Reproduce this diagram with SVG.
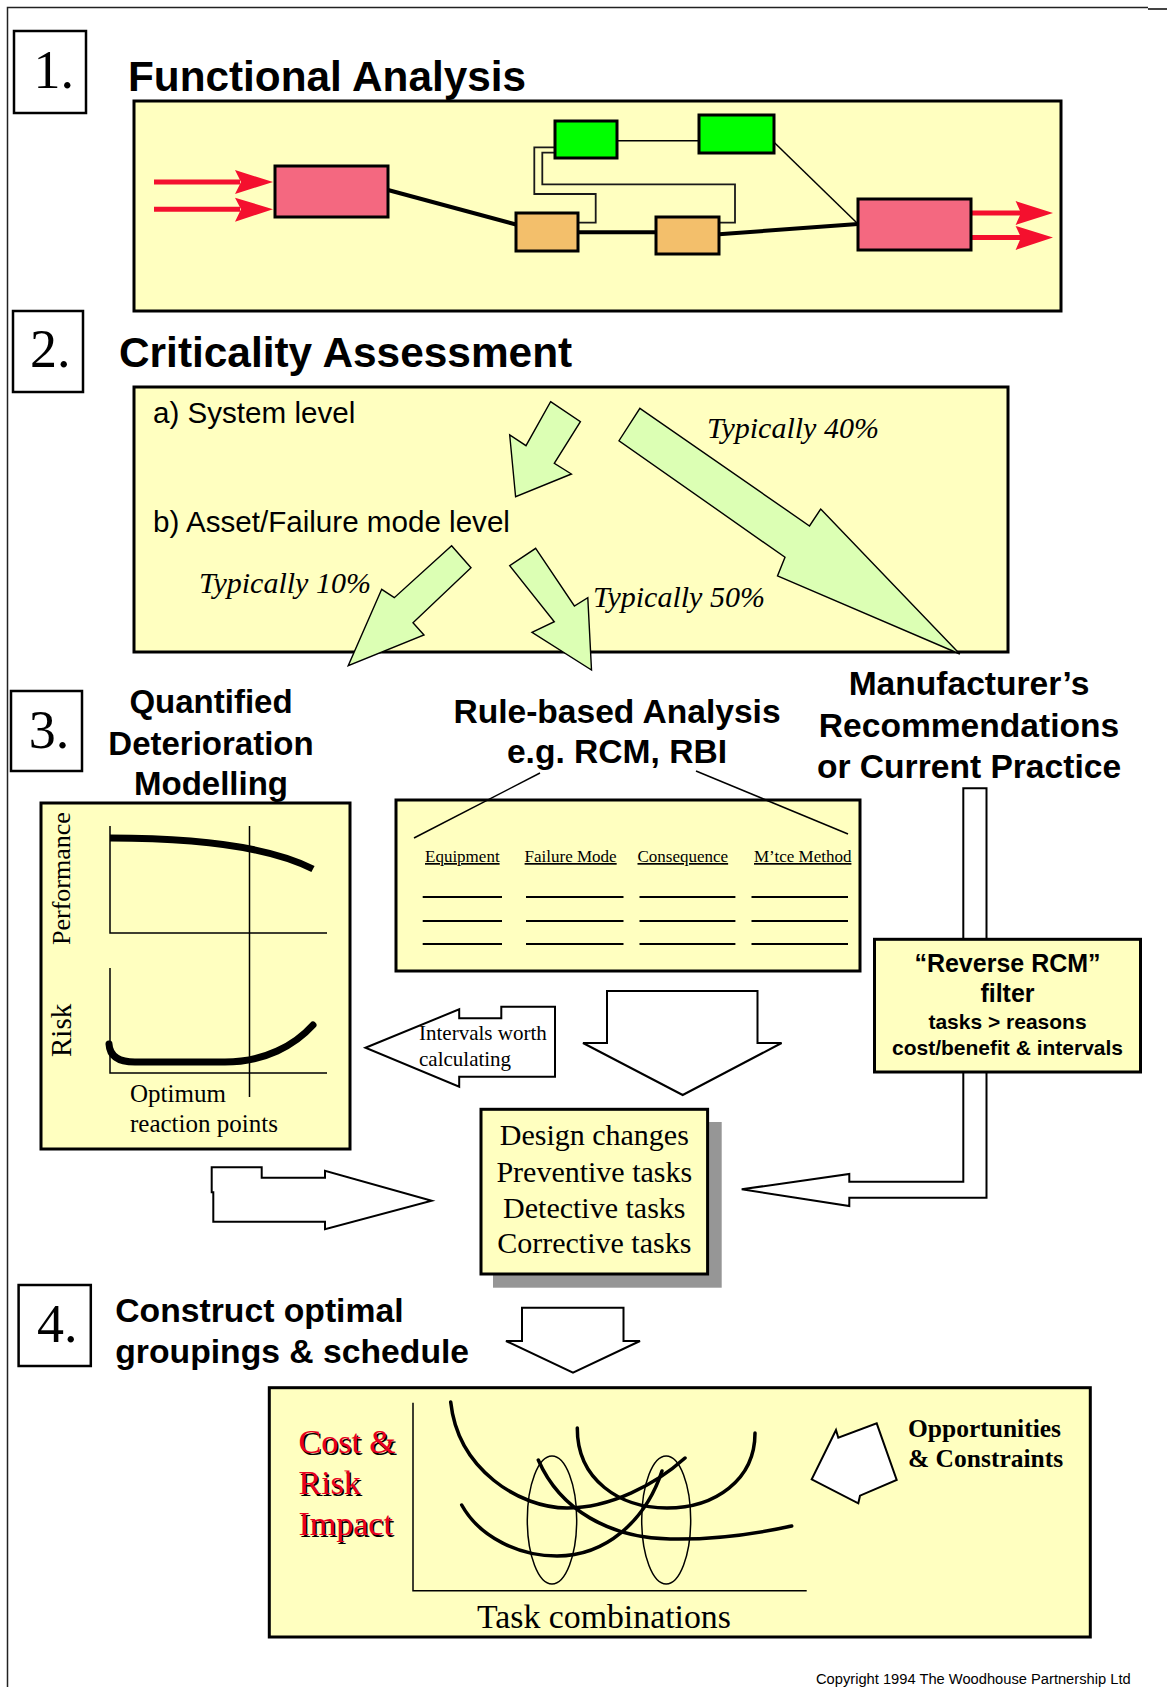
<svg xmlns="http://www.w3.org/2000/svg" width="1167" height="1687" viewBox="0 0 1167 1687">
<defs>
<style>
.box{fill:#FFFFC0;stroke:#000;stroke-width:3}
.num{fill:#fff;stroke:#000;stroke-width:2.5}
.numt{font-family:"Liberation Serif","Times New Roman",serif;font-size:54px;fill:#000}
.h{font-family:"Liberation Sans",Arial,sans-serif;font-weight:bold;fill:#000}
.sans{font-family:"Liberation Sans",Arial,sans-serif;fill:#000}
.serif{font-family:"Liberation Serif","Times New Roman",serif;fill:#000}
.it{font-style:italic}
.blk{stroke:#000;stroke-width:3}
.pink{fill:#F46880}
.orange{fill:#F3BF6B}
.green{fill:#00FF00}
.redl{stroke:#F4102E;stroke-width:5;fill:none}
.redh{fill:#F4102E}
.conn{fill:none;stroke:#000;stroke-width:4}
.fine{fill:none;stroke:#000;stroke-width:1.5}
.dbl{fill:none;stroke:#1a1a1a;stroke-width:1.8}
.garrow{fill:#DCFFB4;stroke:#000;stroke-width:1.4;stroke-linejoin:miter}
.warrow{fill:#fff;stroke:#000;stroke-width:2;stroke-linejoin:miter}
.curve{fill:none;stroke:#000;stroke-width:3.5;stroke-linecap:round}
.thick{fill:none;stroke:#000;stroke-width:7}
.rowl{stroke:#000;stroke-width:2}
.hdr{font-family:"Liberation Serif","Times New Roman",serif;font-size:17px;text-decoration:underline;fill:#000}
</style>
</defs>

<g id="frame">
<path d="M7.5,1687 V7.5 H1148" fill="none" stroke="#222" stroke-width="1.5"/>
<path d="M1148,9 H1167" stroke="#444" stroke-width="2"/>
</g>

<!-- Section 1 -->
<g id="step1-label">
<rect class="num" x="14" y="31" width="72" height="82"/>
<text class="numt" x="33.5" y="88">1.</text>
<text class="h" x="128" y="91" font-size="42.3">Functional Analysis</text>
</g>
<g id="functional-panel">
<rect class="box" x="134" y="101" width="927" height="210"/>
</g>
<g id="fa-connectors">
<line class="conn" x1="388" y1="190" x2="516" y2="224.5"/>
<line class="conn" x1="578" y1="232.3" x2="656" y2="232.3"/>
<line class="conn" x1="719" y1="234.3" x2="858" y2="224"/>
<line class="fine" x1="617" y1="140.7" x2="699" y2="140.7"/>
<line class="fine" x1="774" y1="142.3" x2="858" y2="224"/>
<path class="dbl" d="M555,147.3 H534.3 V194 H595.7 V222.7 H578"/>
<path class="dbl" d="M555,152.7 H542.3 V184.3 H735 V222.7 H719"/>
<line class="redl" x1="154" y1="182" x2="240" y2="182"/>
<polygon class="redh" points="235,170 273,182 235,194 241,182"/>
<line class="redl" x1="154" y1="209.3" x2="240" y2="209.3"/>
<polygon class="redh" points="235,197.7 273,209.3 235,221.7 241,209.3"/>
<line class="redl" x1="971" y1="213" x2="1021" y2="213"/>
<polygon class="redh" points="1015.6,201 1053,213 1015.6,225 1021,213"/>
<line class="redl" x1="971" y1="237.5" x2="1021" y2="237.5"/>
<polygon class="redh" points="1015.6,226 1053,237.5 1015.6,250 1021,237.5"/>
</g>
<g id="fa-input-process"><rect class="pink blk" x="275" y="166" width="113" height="51"/></g>
<g id="fa-output-process"><rect class="pink blk" x="858" y="199" width="113" height="51"/></g>
<g id="fa-orange-1"><rect class="orange blk" x="516" y="213" width="62" height="38"/></g>
<g id="fa-orange-2"><rect class="orange blk" x="656" y="217" width="63" height="37"/></g>
<g id="fa-green-1"><rect class="green blk" x="555" y="121" width="62" height="37"/></g>
<g id="fa-green-2"><rect class="green blk" x="699" y="115" width="75" height="38"/></g>

<!-- Section 2 -->
<g id="step2-label">
<rect class="num" x="13" y="311" width="70" height="81"/>
<text class="numt" x="30" y="367">2.</text>
<text class="h" x="119" y="367" font-size="42.4">Criticality Assessment</text>
</g>
<g id="criticality-panel">
<rect class="box" x="134" y="387" width="874" height="265"/>
<text class="sans" x="153" y="423" font-size="29.6">a) System level</text>
<text class="sans" x="153" y="532" font-size="29.6">b) Asset/Failure mode level</text>
<text class="serif it" x="707" y="438" font-size="30">Typically 40%</text>
<text class="serif it" x="199" y="593" font-size="30">Typically 10%</text>
<text class="serif it" x="593" y="607" font-size="30">Typically 50%</text>
</g>
<g id="criticality-arrows">
<polygon class="garrow" points="550.6,401.7 580.4,421.7 554.3,463.3 571.4,474 515.6,496.7 509.7,435 526,445.7"/>
<polygon class="garrow" points="639.9,408.3 809.5,526 820.7,509 959.8,654 777.5,576 785,557.3 619,440.7"/>
<polygon class="garrow" points="451.6,545.7 471,567.7 413,622.7 424,635 348.2,665.7 381.7,589.3 394.3,597.7"/>
<polygon class="garrow" points="535.7,548.3 574.4,606 587.8,597.7 591.5,670 532,632.3 554.3,621.7 509.7,565.7"/>
</g>

<!-- Section 3 -->
<g id="step3-label">
<rect class="num" x="11" y="691" width="71" height="80"/>
<text class="numt" x="28.7" y="748">3.</text>
</g>
<g id="quantified-heading">
<text class="h" x="211" y="713" font-size="33" text-anchor="middle">Quantified</text>
<text class="h" x="211" y="755" font-size="33" text-anchor="middle">Deterioration</text>
<text class="h" x="211" y="795" font-size="33" text-anchor="middle">Modelling</text>
</g>
<g id="rule-heading">
<text class="h" x="617" y="723" font-size="33.6" text-anchor="middle">Rule-based Analysis</text>
<text class="h" x="617" y="763" font-size="33.6" text-anchor="middle">e.g. RCM, RBI</text>
</g>
<g id="manufacturer-heading">
<text class="h" x="969" y="695" font-size="33.6" text-anchor="middle">Manufacturer’s</text>
<text class="h" x="969" y="737" font-size="33.6" text-anchor="middle">Recommendations</text>
<text class="h" x="969" y="778" font-size="33.6" text-anchor="middle">or Current Practice</text>
</g>

<g id="deterioration-panel">
<rect class="box" x="41" y="803" width="309" height="346"/>
<text class="serif" font-size="26" transform="translate(70,945) rotate(-90)">Performance</text>
<text class="serif" font-size="29" transform="translate(70.5,1057) rotate(-90)">Risk</text>
<path class="fine" d="M110,826 V933 H327"/>
<path class="fine" d="M110,968 V1073 H327"/>
<line class="fine" x1="249.5" y1="826" x2="249.5" y2="1097"/>
<path class="thick" d="M110,838 C180,838 262,843 313,869"/>
<path class="thick" d="M109,1044 Q110,1062 135,1062 L225,1062 C265,1062 295,1045 313,1025" stroke-linecap="round"/>
<text class="serif" x="130" y="1102" font-size="25">Optimum</text>
<text class="serif" x="130" y="1132" font-size="25">reaction points</text>
</g>

<g id="rule-table">
<rect class="box" x="396" y="800" width="464" height="171"/>
<text class="hdr" x="425" y="862">Equipment</text>
<text class="hdr" x="524.6" y="862">Failure Mode</text>
<text class="hdr" x="637.5" y="862">Consequence</text>
<text class="hdr" x="754" y="862">M’tce Method</text>
<g class="rowl">
<line x1="422.7" y1="897" x2="502" y2="897"/><line x1="526" y1="897" x2="623.5" y2="897"/><line x1="639.5" y1="897" x2="735.4" y2="897"/><line x1="751.5" y1="897" x2="848" y2="897"/>
<line x1="422.7" y1="921" x2="502" y2="921"/><line x1="526" y1="921" x2="623.5" y2="921"/><line x1="639.5" y1="921" x2="735.4" y2="921"/><line x1="751.5" y1="921" x2="848" y2="921"/>
<line x1="422.7" y1="944" x2="502" y2="944"/><line x1="526" y1="944" x2="623.5" y2="944"/><line x1="639.5" y1="944" x2="735.4" y2="944"/><line x1="751.5" y1="944" x2="848" y2="944"/>
</g>
<line class="fine" x1="414" y1="838" x2="540" y2="773"/>
<line class="fine" x1="696" y1="771" x2="848" y2="834"/>
</g>

<g id="flow-arrows">
<polygon class="warrow" points="365.5,1047.7 459.2,1009.3 459.2,1018.3 501.3,1018.3 501.3,1006.7 555,1006.7 555,1076.7 459.2,1076.7 459.2,1086.7"/>
<text class="serif" x="419" y="1040" font-size="21">Intervals worth</text>
<text class="serif" x="419" y="1066" font-size="21">calculating</text>
<polygon class="warrow" points="607,991 757.5,991 757.5,1043 781.6,1043 682.7,1095 583,1043 607,1043"/>
<polygon class="warrow" points="211.7,1167.3 261.7,1167.3 261.7,1177.7 325,1177.7 325,1170.7 431.7,1200.7 325,1229.3 325,1221.7 213.3,1221.7 213.3,1192.3 211.7,1192.3"/>
<polygon class="warrow" points="963.3,788.3 986.5,788.3 986.5,1197.7 849.3,1197.7 849.3,1206 741.7,1189.3 849.3,1174 849.3,1181.7 963.3,1181.7"/>
<polygon class="warrow" points="522,1307.7 623.5,1307.7 623.5,1341 640,1341 573,1372.7 506,1341 522,1341"/>
</g>

<g id="reverse-rcm-filter">
<rect class="box" x="874.5" y="939.3" width="266" height="132.7"/>
<text class="h" x="1007.5" y="971.7" font-size="25" text-anchor="middle">“Reverse RCM”</text>
<text class="h" x="1007.5" y="1001.7" font-size="25" text-anchor="middle">filter</text>
<text class="h" x="1007.5" y="1029" font-size="21" text-anchor="middle">tasks &gt; reasons</text>
<text class="h" x="1007.5" y="1055" font-size="21" text-anchor="middle">cost/benefit &amp; intervals</text>
</g>

<g id="task-types">
<rect x="493" y="1122" width="228.7" height="165.7" fill="#969696"/>
<rect class="box" x="481" y="1109.3" width="226.6" height="164.7" stroke-width="2.5"/>
<text class="serif" x="594.3" y="1145" font-size="30" text-anchor="middle">Design changes</text>
<text class="serif" x="594.3" y="1181.7" font-size="30" text-anchor="middle">Preventive tasks</text>
<text class="serif" x="594.3" y="1218" font-size="30" text-anchor="middle">Detective tasks</text>
<text class="serif" x="594.3" y="1253" font-size="30" text-anchor="middle">Corrective tasks</text>
</g>

<!-- Section 4 -->
<g id="step4-label">
<rect class="num" x="18.6" y="1285" width="72.2" height="81"/>
<text class="numt" x="37" y="1341.7">4.</text>
<text class="h" x="115.3" y="1321.7" font-size="33.7">Construct optimal</text>
<text class="h" x="115.3" y="1362.7" font-size="33.7">groupings &amp; schedule</text>
</g>

<g id="scheduling-panel">
<rect class="box" x="269.3" y="1387.7" width="821" height="249.3"/>
<g font-family="Liberation Serif,Times New Roman,serif" font-size="34">
<text x="300" y="1455" fill="#000">Cost &amp;</text>
<text x="300" y="1495.5" fill="#000">Risk</text>
<text x="300" y="1536.5" fill="#000">Impact</text>
<text x="298.5" y="1453.3" fill="#E8001E">Cost &amp;</text>
<text x="298.5" y="1494" fill="#E8001E">Risk</text>
<text x="298.5" y="1535" fill="#E8001E">Impact</text>
</g>
<path class="fine" d="M413,1402.7 V1590.7 H806.7" stroke-width="2"/>
<path class="curve" d="M450.7,1402 C458,1470 520,1508 567,1508 C610,1508 655,1485 685,1458"/>
<path class="curve" d="M577.3,1428 C577,1480 620,1508 667,1508 C715,1508 755,1480 755,1433"/>
<path class="curve" d="M461.7,1505 C480,1538 520,1556 557,1556 C605,1556 645,1522 662,1471"/>
<path class="curve" d="M538.3,1460 C560,1510 610,1538 670,1539 C720,1540 760,1533 791.7,1526"/>
<ellipse class="fine" cx="552" cy="1520" rx="24.7" ry="64"/>
<ellipse class="fine" cx="666.2" cy="1520" rx="24.5" ry="64"/>
<text class="serif" x="477" y="1628" font-size="33.8">Task combinations</text>
<polygon class="warrow" points="836,1430 838.3,1437.7 876.7,1423.3 896.7,1480 860,1495.7 858.3,1503.3 811.7,1479.3"/>
<text class="serif" x="908" y="1436.7" font-size="25.5" font-weight="bold">Opportunities</text>
<text class="serif" x="908" y="1466.7" font-size="25.5" font-weight="bold">&amp; Constraints</text>
</g>

<g id="copyright">
<text class="sans" x="816" y="1684" font-size="14.7">Copyright 1994 The Woodhouse Partnership Ltd</text>
</g>
</svg>
